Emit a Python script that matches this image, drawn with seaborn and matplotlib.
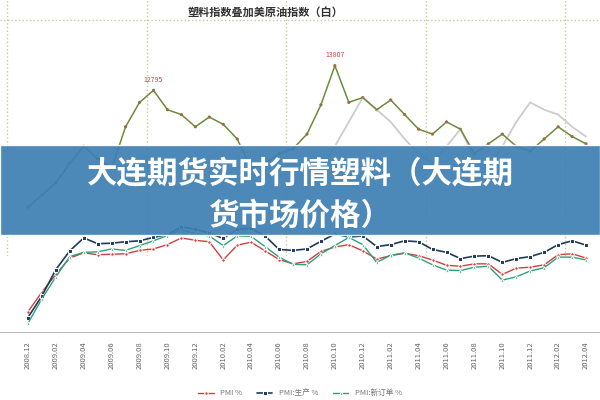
import numpy as np
import pandas as pd
import matplotlib
matplotlib.use("Agg")
import matplotlib.pyplot as plt
import seaborn as sns
from matplotlib.patches import Rectangle

sns.set_style("white")
plt.rcParams['font.family'] = ['Noto Sans CJK SC', 'DejaVu Sans']

months = pd.date_range("2008-12-01", periods=41, freq="MS")
tick_labels = [m.strftime("%Y.%m") for m in months[::2]]
plastic = [8000,8500,9000,9800,10500,10000,9600,11300,12300,12795,12000,11800,11300,11700,11400,10800,
           9600,9800,10200,10400,11000,12200,13807,12300,12500,12000,12400,11800,11200,11000,11500,11200,
           10200,10600,11000,10500,10300,10800,11300,10900,10600]
oil = [np.nan]*20 + [9000,9500,10500,11500,12500,12000,11500,10800,10200,9800,10500,11200,10000,9600,
                      10500,11500,12300,12000,11800,11300,10900]
pmi = [41.2,45.3,49.0,52.4,53.5,53.1,53.2,53.3,54.0,54.3,55.2,56.6,56.1,55.8,52.0,55.1,55.7,53.9,52.1,51.2,
       51.7,53.8,54.7,55.2,53.9,52.2,52.9,53.4,52.9,52.0,50.9,50.7,51.2,51.2,49.0,50.3,50.5,51.0,53.1,53.3,52.4]
pmi_prod = [40.0,44.5,50.0,53.9,56.6,55.4,55.5,55.8,56.0,56.7,57.3,58.9,58.4,57.6,56.5,58.4,58.6,57.0,54.2,54.0,
            54.3,55.9,57.4,56.8,57.0,54.8,55.2,56.0,55.8,54.2,53.6,52.3,52.8,52.9,51.5,52.3,52.7,53.6,55.2,56.0,55.1]
pmi_order = [38.8,43.9,48.5,52.7,53.6,53.7,54.3,54.0,55.0,56.0,57.1,58.3,57.5,57.0,55.0,57.0,56.9,54.8,52.6,51.1,
             51.0,53.3,55.0,56.7,55.2,51.5,53.0,53.5,52.4,51.0,49.9,49.8,50.5,50.7,47.8,48.5,49.7,50.4,52.6,52.6,52.0]

df = pd.DataFrame({"m": np.arange(41), "plastic": plastic, "oil": oil,
                   "PMI %": pmi, "PMI:生产 %": pmi_prod, "PMI:新订单 %": pmi_order})

fig = plt.figure(figsize=(6, 4), dpi=100)
fig.patch.set_facecolor("white")

ax1 = fig.add_axes([0.0, 0.36, 1.0, 0.64])
ax1.set_facecolor("#f6f6f6")
sns.lineplot(data=df, x="m", y="oil", ax=ax1, color="#cccccc", lw=1.3)
sns.lineplot(data=df, x="m", y="plastic", ax=ax1, color="#6f8a3a", lw=1.1)
sns.scatterplot(data=df, x="m", y="plastic", ax=ax1, color="#d04040", s=5, edgecolor="none")
ax1.set_xlim(-2, 41)
ax1.set_ylim(6000, 16500)
ax1.axis("off")
for xv in [-1.5, 8.5, 18.5, 28.5, 38.5]:
    ax1.axvline(xv, color="#c8c8a0", ls=":", lw=1)
ax1.axhline(15700, color="#c8c8a0", ls=":", lw=1)
ax1.text(17, 16000, "塑料指数叠加美原油指数（白）", ha="center", va="center", fontsize=8,
         color="#333", fontweight="bold")
ax1.text(9, 12795 + 350, "12795", ha="center", fontsize=5, color="#d04040")
ax1.text(22, 13807 + 350, "13807", ha="center", fontsize=5, color="#d04040")

ax2 = fig.add_axes([0.0, 0.17, 1.0, 0.30])
ax2.patch.set_alpha(0)
sns.lineplot(data=df, x="m", y="PMI %", ax=ax2, color="#d04040", marker="o", ms=2.5, lw=1, label="PMI %")
sns.lineplot(data=df, x="m", y="PMI:生产 %", ax=ax2, color="#1f3a5a", marker="s", ms=2.5, lw=1.2, label="PMI:生产 %")
sns.lineplot(data=df, x="m", y="PMI:新订单 %", ax=ax2, color="#2aa37a", marker="^", ms=2.5, lw=1, label="PMI:新订单 %")
ax2.set_xlim(-2, 41)
ax2.set_ylim(37, 62)
ax2.set_xticks(np.arange(0, 41, 2))
ax2.set_xticklabels(tick_labels, rotation=90, fontsize=5.5, color="#666")
ax2.set_yticks([])
ax2.set_xlabel(""); ax2.set_ylabel("")
for s in ["top", "right", "left"]:
    ax2.spines[s].set_visible(False)
ax2.spines["bottom"].set_color("#bbbbbb")
ax2.legend(loc="upper center", bbox_to_anchor=(0.5, -0.42), ncol=3, frameon=False, fontsize=5.5,
           labelcolor="#777")

fig.patches.append(Rectangle((0, 0.4125), 1, 0.225, transform=fig.transFigure,
                             facecolor="#3d7fb3", alpha=0.92, zorder=5))
fig.text(0.5, 0.565, "大连期货实时行情塑料（大连期", ha="center", va="center", fontsize=22,
         color="white", fontweight="bold", zorder=6)
fig.text(0.5, 0.46, "货市场价格）", ha="center", va="center", fontsize=22,
         color="white", fontweight="bold", zorder=6)

fig.savefig("out.png", dpi=100)
